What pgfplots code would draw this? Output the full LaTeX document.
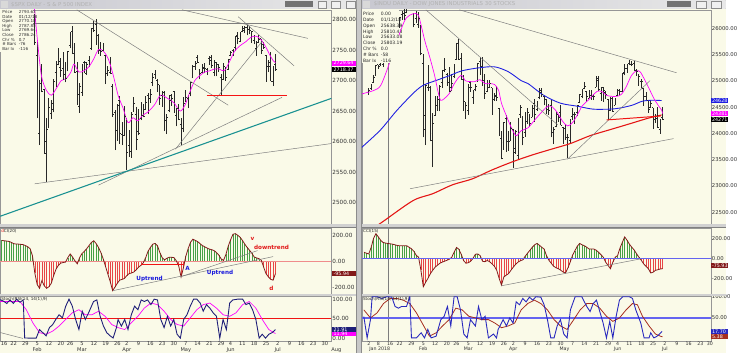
\documentclass[border=0pt]{standalone}
\usepackage{pgfplots}
\pgfplotsset{compat=1.18}
\usepackage{pgfplotstable}
\usepackage{fontspec}
\setmainfont{DejaVu Sans}
\definecolor{cream}{RGB}{250,250,232}
\definecolor{framegray}{RGB}{150,150,150}
\definecolor{winbg}{RGB}{200,200,200}
\definecolor{barcol}{RGB}{40,40,40}
\definecolor{magline}{RGB}{255,0,255}
\definecolor{blueMA}{RGB}{30,30,225}
\definecolor{redMA}{RGB}{228,20,20}
\definecolor{hred}{RGB}{240,20,20}
\definecolor{tealline}{RGB}{25,145,145}
\definecolor{trendgray}{RGB}{125,125,125}
\definecolor{cgreen}{RGB}{70,160,70}
\definecolor{cred}{RGB}{232,70,70}
\definecolor{cdark}{RGB}{130,25,25}
\definecolor{navy}{RGB}{30,30,120}
\definecolor{sblue}{RGB}{40,40,190}
\definecolor{sred}{RGB}{165,45,30}
\definecolor{zeroL}{RGB}{240,140,140}
\definecolor{lblue}{RGB}{100,100,240}
\definecolor{annblue}{RGB}{25,25,220}
\definecolor{annred}{RGB}{225,25,25}
\definecolor{titleA}{RGB}{200,200,208}
\definecolor{titleB}{RGB}{232,232,232}
\newcommand{\fsL}{\fontsize{5.8}{6}\selectfont}
\newcommand{\fsR}{\fontsize{4.9}{5}\selectfont}
\newcommand{\fsT}{\fontsize{5.4}{5.5}\selectfont}
\newcommand{\fsD}{\fontsize{5.2}{5.5}\selectfont}
\newcommand{\fsE}{\fontsize{4.8}{5}\selectfont}
\newcommand{\fsI}{\fontsize{4.2}{4.67}\selectfont}
\newcommand{\fsJ}{\fontsize{4.6}{5.9}\selectfont}
\pgfdeclareplotmark{otick}{\pgfpathmoveto{\pgfpoint{-1.3pt}{0pt}}\pgfpathlineto{\pgfpoint{0pt}{0pt}}\pgfusepathqstroke}
\pgfdeclareplotmark{ctick}{\pgfpathmoveto{\pgfpoint{0pt}{0pt}}\pgfpathlineto{\pgfpoint{1.3pt}{0pt}}\pgfusepathqstroke}
\pgfplotsset{
 panel/.style={scale only axis, anchor=south west, axis background/.style={fill=cream},
   axis line style={draw=framegray, line width=0.4pt}, xtick=\empty, ytick pos=right, yticklabel pos=right,
   major tick length=0pt, clip=true, scaled y ticks=false, scaled x ticks=false,
   yticklabel style={inner sep=0.8pt, text=black!80, /pgf/number format/fixed, /pgf/number format/fixed zerofill,
     /pgf/number format/precision=2, /pgf/number format/1000 sep={}, /pgf/number format/assume math mode=true},
   xticklabel style={inner sep=0.8pt, text=black!80}},
 L/.style={panel, width=337pt, xmin=7.33, xmax=147.75, yticklabel style={font=\fsL}, xticklabel style={font=\fsD}},
 R/.style={panel, width=355pt, xmin=-2.9, xmax=144.4, yticklabel style={font=\fsT}, xticklabel style={font=\fsE}},
 hl/.style={draw=none, mark=none, forget plot, error bars/y dir=plus, error bars/y explicit,
   error bars/error mark=none, error bars/error bar style={draw=barcol, line width=0.95pt, solid}},
 otk/.style={only marks, mark=otick, barcol, mark options={line width=0.85pt, solid}},
 ctk/.style={only marks, mark=ctick, barcol, mark options={line width=0.85pt, solid}},
}
\pgfplotstableread{
i o h l c
9 2798 2807 2768 2776
10 2784 2807 2778 2803
11 2802 2805 2787 2798
12 2802 2810 2798 2810
13 2809 2833 2808 2833
14 2835 2842 2831 2839
15 2845 2853 2817 2837
16 2846 2848 2830 2839
17 2847 2873 2846 2873
18 2867 2870 2852 2853
19 2833 2838 2819 2822
20 2832 2839 2813 2824
21 2816 2839 2813 2822
22 2808 2808 2759 2762
23 2741 2763 2638 2649
24 2614 2701 2594 2695
25 2690 2727 2681 2682
26 2685 2686 2580 2581
27 2601 2638 2533 2620
28 2637 2672 2622 2656
29 2646 2668 2637 2662
30 2652 2702 2648 2698
31 2713 2731 2689 2731
32 2727 2754 2725 2732
33 2722 2737 2706 2716
34 2720 2747 2701 2702
35 2710 2731 2697 2704
36 2716 2748 2715 2748
37 2757 2780 2753 2779
38 2781 2790 2744 2745
39 2754 2762 2713 2714
40 2715 2730 2660 2678
41 2658 2696 2647 2691
42 2681 2728 2675 2720
43 2730 2732 2712 2729
44 2711 2731 2709 2727
45 2733 2740 2722 2739
46 2753 2787 2751 2786
47 2790 2797 2780 2783
48 2792 2801 2759 2765
49 2774 2777 2744 2750
50 2755 2763 2741 2748
51 2750 2762 2749 2752
52 2741 2742 2694 2712
53 2715 2724 2708 2717
54 2714 2739 2711 2711
55 2691 2695 2641 2644
56 2647 2651 2586 2588
57 2619 2661 2601 2659
58 2667 2675 2596 2613
59 2612 2632 2594 2605
60 2610 2659 2609 2641
61 2634 2638 2554 2582
62 2593 2619 2575 2614
63 2584 2649 2573 2645
64 2657 2673 2649 2662
65 2645 2656 2586 2604
66 2617 2653 2610 2613
67 2638 2665 2635 2656
68 2643 2662 2640 2642
69 2653 2674 2652 2664
70 2676 2680 2645 2656
71 2670 2687 2664 2678
72 2697 2713 2691 2706
73 2710 2717 2703 2708
74 2701 2702 2681 2693
75 2692 2693 2660 2670
76 2675 2683 2657 2670
77 2681 2683 2617 2635
78 2634 2645 2612 2640
79 2651 2676 2648 2667
80 2675 2678 2659 2670
81 2683 2683 2648 2648
82 2643 2655 2625 2655
83 2654 2661 2635 2636
84 2628 2638 2594 2630
85 2622 2673 2615 2663
86 2681 2684 2665 2672
87 2671 2677 2655 2672
88 2679 2698 2674 2697
89 2705 2726 2704 2723
90 2723 2732 2718 2728
91 2738 2742 2729 2730
92 2719 2719 2702 2711
93 2713 2727 2713 2722
94 2720 2729 2712 2720
95 2718 2720 2709 2713
96 2736 2740 2726 2733
97 2738 2742 2721 2725
98 2713 2734 2707 2733
99 2730 2731 2707 2727
100 2724 2728 2714 2721
101 2705 2710 2676 2690
102 2702 2729 2702 2724
103 2720 2722 2700 2705
104 2718 2736 2718 2735
105 2742 2749 2740 2747
106 2749 2752 2740 2749
107 2754 2772 2749 2772
108 2774 2779 2760 2770
109 2765 2779 2763 2779
110 2780 2790 2779 2782
111 2785 2789 2778 2787
112 2788 2791 2774 2775
113 2784 2789 2776 2782
114 2778 2782 2762 2780
115 2766 2775 2760 2774
116 2752 2765 2741 2762
117 2769 2775 2762 2767
118 2769 2769 2744 2749
119 2760 2764 2752 2755
120 2742 2742 2698 2717
121 2723 2733 2714 2723
122 2729 2747 2699 2699
123 2699 2724 2691 2716
124 2727 2743 2716 2718
}\spx
\pgfplotstableread{
i o h l c
0 24809 24864 24742 24824
1 24850 24942 24823 24922
2 24964 25106 24963 25075
3 25115 25299 25114 25296
4 25308 25312 25235 25283
5 25313 25386 25290 25386
6 25309 25370 25262 25370
7 25406 25576 25406 25575
8 25638 25810 25633 25803
9 25987 26086 25682 25792
10 25858 26153 25809 26116
11 26152 26153 25990 26017
12 26040 26072 25942 26072
13 26026 26215 26011 26214
14 26269 26338 26171 26211
15 26287 26448 26162 26252
16 26312 26459 26290 26393
17 26460 26617 26439 26617
18 26577 26609 26413 26440
19 26230 26305 26020 26077
20 26198 26339 26097 26149
21 26084 26306 26014 26187
22 26062 26062 25490 25521
23 25337 25521 23924 24346
24 24085 24946 23778 24913
25 24870 25313 24807 24893
26 24883 24903 23849 23860
27 23992 24382 23360 24191
28 24337 24721 24337 24601
29 24540 24705 24432 24640
30 24535 24925 24421 24893
31 24970 25200 24868 25200
32 25195 25433 25173 25219
33 25125 25157 24903 24965
34 24974 25273 24785 24798
35 24886 25135 24803 24963
36 25088 25310 25053 25310
37 25406 25709 25406 25709
38 25732 25800 25406 25410
39 25433 25531 25027 25029
40 25024 25116 24432 24608
41 24395 24594 24283 24538
42 24438 24946 24361 24874
43 24965 24994 24798 24884
44 24695 24835 24562 24801
45 24846 24950 24804 24895
46 25000 25339 24987 25335
47 25374 25450 25120 25178
48 25281 25449 24901 25007
49 25093 25133 24658 24758
50 24801 25012 24785 24873
51 24878 25018 24878 24946
52 24872 24873 24357 24610
53 24640 24780 24620 24727
54 24706 24904 24615 24682
55 24486 24486 23948 23957
56 23913 24053 23509 23533
57 23823 24215 23687 24202
58 24294 24361 23644 23857
59 23842 24040 23673 23849
60 23859 24216 23855 24103
61 24076 24076 23344 23644
62 23715 24074 23612 24034
63 23586 24302 23523 24265
64 24357 24543 24300 24505
65 24301 24331 23773 23933
66 24025 24401 23940 23979
67 24232 24487 24185 24408
68 24272 24374 24127 24190
69 24308 24534 24308 24483
70 24573 24662 24216 24360
71 24449 24624 24437 24573
72 24694 24858 24648 24786
73 24813 24858 24691 24748
74 24713 24713 24535 24665
75 24657 24658 24378 24463
76 24493 24557 24355 24448
77 24535 24636 23927 24025
78 24029 24121 23801 24084
79 24140 24405 24116 24322
80 24356 24361 24221 24311
81 24404 24537 24160 24163
82 24117 24117 23808 24100
83 24098 24185 23885 23925
84 23836 23996 23532 23930
85 23865 24263 23819 24263
86 24317 24479 24263 24358
87 24342 24417 24184 24361
88 24399 24543 24328 24543
89 24592 24756 24592 24740
90 24715 24837 24675 24831
91 24853 24979 24850 24900
92 24800 24800 24607 24707
93 24671 24825 24671 24769
94 24723 24827 24642 24713
95 24710 24747 24634 24715
96 24883 25087 24883 25013
97 25047 25086 24816 24834
98 24765 24888 24626 24886
99 24878 24878 24597 24811
100 24774 24803 24659 24753
101 24649 24649 24252 24362
102 24437 24699 24437 24668
103 24638 24701 24416 24416
104 24542 24681 24534 24635
105 24730 24857 24730 24814
106 24827 24843 24740 24799
107 24805 25149 24799 25146
108 25163 25326 25106 25241
109 25232 25317 25158 25317
110 25328 25402 25302 25322
111 25336 25388 25285 25320
112 25335 25375 25197 25201
113 25199 25222 25098 25175
114 25132 25132 24913 25090
115 24990 25030 24868 24987
116 24853 24853 24532 24700
117 24701 24794 24643 24657
118 24625 24642 24398 24462
119 24495 24643 24495 24581
120 24491 24491 24084 24252
121 24268 24370 24203 24284
122 24344 24507 24106 24117
123 24080 24268 23997 24217
124 24313 24509 24260 24271
}\dji
\pgfplotstableread{
i v
8 165
9 162
10 160
11 157
12 150
13 140
14 136
15 136
16 134
17 132
18 125
19 115
20 100
21 45
22 -90
23 -180
24 -210
25 -150
26 -190
27 -210
28 -197
29 -170
30 -110
31 -60
32 -30
33 -13
34 -8
35 -5
36 30
37 59
38 35
39 5
40 -18
41 30
42 62
43 80
44 100
45 125
46 149
47 162
48 140
49 110
50 70
51 20
52 -40
53 -100
54 -160
55 -228
56 -200
57 -170
58 -146
59 -140
60 -133
61 -110
62 -95
63 -90
64 -82
65 -65
66 -44
67 -30
68 -10
69 30
70 80
71 110
72 135
73 141
74 123
75 70
76 30
77 13
78 25
79 33
80 33
81 30
82 5
83 -35
84 -121
85 -50
86 40
87 100
88 150
89 174
90 165
91 156
92 140
93 125
94 115
95 105
96 97
97 92
98 85
99 70
100 50
101 20
102 8
103 55
104 120
105 170
106 213
107 218
108 205
109 190
110 165
111 136
112 110
113 88
114 65
115 35
116 28
117 22
118 10
119 -44
120 -95
121 -120
122 -140
123 -146
124 -96
}\cciL
\pgfplotstableread{
i v
-2 59
-1 50
0 43
1 110
2 200
3 246
4 214
5 180
6 158
7 152
8 148
9 145
10 141
11 135
12 128
13 125
14 125
15 125
16 125
17 110
18 95
19 70
20 30
21 10
22 -121
23 -286
24 -240
25 -200
26 -154
27 -120
28 -89
29 -70
30 -50
31 -39
32 -30
33 -20
34 -10
35 10
36 60
37 108
38 90
39 40
40 -23
41 -50
42 -45
43 -30
44 0
45 40
46 43
47 26
48 -30
49 -35
50 -23
51 -35
52 -56
53 -80
54 -121
55 -200
56 -269
57 -187
58 -170
59 -154
60 -120
61 -89
62 -60
63 -39
64 -25
65 -16
66 20
67 50
68 80
69 110
70 135
71 148
72 130
73 110
74 92
75 26
76 -20
77 -50
78 -80
79 -95
80 -105
81 -120
82 -138
83 -148
84 -100
85 -39
86 30
87 76
88 120
89 148
90 135
91 125
92 110
93 92
94 92
95 92
96 80
97 59
98 35
99 10
100 -40
101 -72
102 -105
103 -39
104 10
105 26
106 100
107 158
108 214
109 180
110 141
111 110
112 83
113 45
114 10
115 -20
116 -56
117 -80
118 -105
119 -148
120 -140
121 -121
122 -115
123 -108
124 -105
}\cciR
\begin{document}
\begin{tikzpicture}
\begin{scope}[x=1pt,y=1pt]
\useasboundingbox (0,0) rectangle (738,359);
\fill[winbg] (0,0) rectangle (738,359);
\fill[cream] (0,0) rectangle (362,350);
\fill[cream] (368,0) rectangle (738,350);
\draw[black!45, line width=0.5pt] (362.5,0) -- (362.5,359);
\draw[black!45, line width=0.5pt] (367.5,0) -- (367.5,359);
\shade[left color=titleA, right color=titleB] (0,350) rectangle (362,359);
\shade[left color=titleA, right color=titleB] (368,350) rectangle (738,359);
\fill[white!70!gray] (1,351) rectangle (8,358);
\fill[white!70!gray] (369,351) rectangle (376,358);
\node[anchor=west, font=\fontsize{5.5}{6}\selectfont, text=black!30, inner sep=0] at (11,354.5) {\$SPX DAILY - S \& P 500 INDEX};
\node[anchor=west, font=\fontsize{5.5}{6}\selectfont, text=black!30, inner sep=0] at (380,354.5) {\$INDU DAILY - DOW JONES INDUSTRIALS 30 STOCKS};
\fill[black!55] (290,351.5) rectangle (318,357.5);
\foreach \a in {323,337,352} {\fill[white!88!gray] (\a,351) rectangle (\a+9,358); \draw[black!45,line width=0.3pt] (\a,351) rectangle (\a+9,358);}
\fill[black!55] (678,351.5) rectangle (703,357.5);
\foreach \a in {708,723} {\fill[white!88!gray] (\a,351) rectangle (\a+10,358); \draw[black!45,line width=0.3pt] (\a,351) rectangle (\a+10,358);}
\end{scope}

% ===== LEFT PRICE =====
\begin{axis}[L, at={(0pt,131pt)}, height=218pt, ymin=2464.5, ymax=2816.1, ytick={2500,2550,...,2800}]
\addplot[trendgray, line width=0.4pt] coordinates {(7.33,2793.63) (147.75,2793.63)};
\addplot[hl] table[x=i, y=l, y error expr=\thisrow{h}-\thisrow{l}] {\spx};
\addplot[otk] table[x=i, y=o] {\spx};
\addplot[ctk] table[x=i, y=c] {\spx};
\addplot[magline, line width=0.7pt, smooth, tension=0.5] coordinates {(21.5,2830) (21.9,2816) (23.2,2763) (24.8,2708) (26.9,2684) (29.0,2676) (31.1,2687) (33.2,2700) (35.2,2703) (37.3,2714) (38.6,2727) (40.7,2714) (42.7,2716) (44.8,2722) (46.9,2735) (49.0,2751) (51.1,2748) (53.2,2735) (55.3,2708) (57.3,2676) (59.4,2655) (61.5,2631) (63.6,2639) (65.7,2634) (67.7,2643) (69.8,2648) (72.7,2660) (75.3,2676) (78.2,2671) (81.1,2663) (83.6,2650) (85.7,2660) (87.8,2682) (89.8,2700) (91.9,2708) (94.0,2714) (96.1,2716) (98.2,2719) (100.2,2719) (102.3,2716) (104.4,2730) (106.5,2747) (108.6,2756) (111.5,2764) (113.6,2771) (115.7,2773) (117.7,2768) (119.8,2756) (121.9,2740) (123.2,2732) (124.0,2729.6)};
\addplot[trendgray, line width=0.5pt] coordinates {(39.8,2816.1) (104,2659.6)};
\addplot[trendgray, line width=0.5pt] coordinates {(84.4,2816.1) (137.75,2769.3)};
\addplot[trendgray, line width=0.5pt] coordinates {(108.2,2804.8) (131.9,2724.2)};
\addplot[trendgray, line width=0.5pt] coordinates {(81.6,2587.5) (118.5,2765.0)};
\addplot[trendgray, line width=0.5pt] coordinates {(49.0,2528.5) (126.8,2672.5)};
\addplot[trendgray, line width=0.5pt] coordinates {(21.9,2530.6) (147.75,2596.7)};
\addplot[tealline, line width=1.1pt] coordinates {(7.33,2477.4) (147.75,2670.9)};
\draw[line width=1.3pt, color={rgb,255:red,245;green,20;blue,20}] (axis cs:94.8,2675.8) -- (axis cs:129,2675.8);
\end{axis}

% ===== LEFT CCI =====
\begin{axis}[L, at={(0pt,60pt)}, height=67pt, ymin=-253.8, ymax=261.5, ytick={-200,0,200}]
\addplot[ycomb, cgreen, line width=0.6pt, restrict y to domain=0:1000] table[x=i,y=v] {\cciL};
\addplot[ycomb, cred, line width=0.6pt, restrict y to domain=-1000:0] table[x=i,y=v] {\cciL};
\addplot[zeroL, line width=0.7pt] coordinates {(7.33,0) (147.75,0)};
\addplot[cdark, line width=0.8pt] table[x=i,y=v] {\cciL};
\draw[line width=0.9pt, color=hred] (axis cs:67,-23) -- (axis cs:85.1,-23);
\addplot[trendgray, line width=0.5pt] coordinates {(55.2,-228) (123.0,38)};
\addplot[trendgray, line width=0.5pt] coordinates {(83.7,-121) (116.4,85)};
\end{axis}

% ===== LEFT STOCH =====
\begin{axis}[L, at={(0pt,12pt)}, height=46pt, ymin=-7.6, ymax=108.4, ytick={0,50,100},
  xtick={9,13,18,23,28,33,37,42,47,52,57,61,66,71,76,81,86,91,96,101,105,110,115,120,125,130,135,140,145},
  xticklabels={16,22,29,5,12,20,26,5,12,19,26,2,9,16,23,30,7,14,21,29,4,11,18,25,2,9,16,23,30},
  extra x ticks={23,42,61,86,105,125}, extra x tick labels={Feb,Mar,Apr,May,Jun,Jul},
  extra x tick style={xticklabel style={yshift=-5.5pt}}]
\addplot[color=hred, line width=0.8pt] coordinates {(7.33,50) (147.75,50)};
\addplot[trendgray, line width=0.5pt] coordinates {(7.33,14.4) (17.0,-0.8)};
\addplot[magline, line width=0.7pt] coordinates {(7.3,94)(15.7,94)(18.4,73)(21.2,39)(24.0,14)(26.8,10)(29.6,18)(32.3,31)(35.1,48)(37.9,65)(40.7,73)(43.4,60)(46.2,60)(49.0,69)(51.8,56)(54.6,35)(57.3,27)(60.1,22)(62.9,39)(65.7,56)(68.4,77)(71.2,90)(74.0,86)(76.8,69)(79.6,48)(82.3,35)(85.1,31)(87.9,52)(90.7,73)(93.4,86)(96.2,90)(99.0,77)(101.8,60)(104.6,56)(107.3,65)(110.1,86)(112.9,94)(115.7,77)(118.4,48)(121.2,22)(123.3,14)(124,12)};
\addplot[navy, line width=0.9pt] coordinates {(7.3,98.5)(8.7,95)(10.1,89)(11.5,98)(12.9,89)(14.3,100)(15.7,92)(17.1,98)(17.7,0.5)(19.8,0)(22.6,0)(24.0,22)(25.4,14)(26.8,6)(28.2,27)(29.6,35)(30.9,48)(32.3,60)(33.7,52)(35.1,82)(36.5,100)(37.9,82)(39.3,48)(40.7,22)(42.1,69)(43.4,48)(44.8,65)(46.9,94)(48.3,98)(49.7,56)(51.1,31)(52.5,14)(53.9,6)(55.2,0.4)(56.6,27)(57.3,48)(58.7,31)(60.1,48)(61.5,22)(62.9,60)(64.3,82)(65.7,73)(67.1,98)(68.4,94)(69.8,98)(71.2,86)(72.6,100)(74.0,98)(75.4,48)(76.8,27)(78.2,56)(79.6,31)(80.9,48)(82.3,10)(83.7,0)(85.1,48)(86.5,60)(87.9,82)(89.3,100)(90.7,100)(92.1,90)(93.4,69)(94.8,86)(96.2,77)(97.6,65)(99.0,56)(100.4,0)(101.8,48)(103.2,22)(104.6,90)(105.9,98)(108.0,100)(110.1,100)(111.5,86)(112.9,90)(114.3,73)(115.7,48)(117.1,0)(118.4,10)(119.8,0)(121.2,10)(122.6,14)(124.0,22)};
\end{axis}

% ===== RIGHT PRICE =====
\begin{axis}[R, at={(368pt,131pt)}, height=218pt, ymin=22273, ymax=26356, ytick={22500,23000,...,26000}]
\addplot[trendgray, line width=0.4pt] coordinates {(8,22273) (8,26356)};
\addplot[hl] table[x=i, y=l, y error expr=\thisrow{h}-\thisrow{l}] {\dji};
\addplot[otk] table[x=i, y=o] {\dji};
\addplot[ctk] table[x=i, y=c] {\dji};
\addplot[redMA, line width=1.1pt, smooth] coordinates {(3.3,22240) (6.2,22329) (18.7,22722) (27.0,22853) (35.3,23022) (43.6,23134) (51.9,23303) (60.2,23453) (68.5,23584) (76.8,23697) (85.1,23809) (93.4,23958) (101.7,24071) (110.0,24183) (118.3,24296) (123.6,24352)};
\addplot[blueMA, line width=0.9pt, smooth] coordinates {(-2.9,23740) (-2.1,23771) (5.0,24071) (11.6,24427) (18.7,24764) (22.8,24914) (28.2,25007) (34.0,25101) (39.4,25195) (46.5,25251) (53.1,25270) (58.9,25176) (64.3,25007) (67.2,24951) (73.9,24726) (80.9,24577) (88.0,24520) (94.6,24464) (101.7,24464) (105.8,24483) (111.2,24539) (115.4,24614) (119.5,24633) (123.6,24628)};
\addplot[magline, line width=0.7pt, smooth, tension=0.5] coordinates {(-2.9,24750) (-2.1,24764) (2.1,24820) (5.0,24914) (8.3,25288) (13.3,25944) (15.8,26200) (18.7,26281) (20.8,26262) (22.0,26075) (23.7,25756) (25.7,25457) (27.8,25100) (29.1,24820) (30.3,24633) (32.0,24670) (34.0,24764) (36.1,24951) (38.2,25082) (39.4,25101) (40.7,25007) (42.7,24989) (44.8,24989) (46.9,25026) (49.0,24951) (51.0,24951) (53.1,24932) (54.8,24820) (56.0,24577) (58.1,24333) (60.2,24108) (62.2,23958) (64.3,24052) (67.2,24108) (69.7,24239) (72.6,24389) (75.5,24520) (77.6,24502) (79.7,24389) (81.7,24239) (83.8,24145) (85.9,24202) (88.0,24352) (90.0,24520) (92.1,24614) (94.2,24708) (96.3,24801) (98.3,24801) (100.4,24726) (102.5,24708) (104.6,24708) (106.6,24745) (108.7,24895) (110.8,25101) (112.9,25195) (114.5,25176) (116.2,25045) (118.3,24857) (120.3,24670) (122.4,24520) (123.6,24445) (124,24381)};
\addplot[trendgray, line width=0.5pt] coordinates {(24.1,26356) (79.7,24165)};
\addplot[trendgray, line width=0.5pt] coordinates {(38.2,26356) (129.9,25157)};
\addplot[trendgray, line width=0.5pt] coordinates {(17.4,22947) (128.6,23902)};
\addplot[trendgray, line width=0.5pt] coordinates {(83.8,23509) (118.7,25007)};
\draw[line width=1pt, color=hred] (axis cs:100.4,24258) -- (axis cs:123.2,24333);
\end{axis}

% ===== RIGHT CCI =====
\begin{axis}[R, at={(368pt,60pt)}, height=67pt, ymin=-357.6, ymax=302.4, ytick={-200,0,200}]
\addplot[trendgray, line width=0.4pt] coordinates {(8,-357.6) (8,302.4)};
\addplot[ycomb, cgreen, line width=0.6pt, restrict y to domain=0:1000] table[x=i,y=v] {\cciR};
\addplot[ycomb, cred, line width=0.6pt, restrict y to domain=-1000:0] table[x=i,y=v] {\cciR};
\addplot[cdark, line width=0.8pt] table[x=i,y=v] {\cciR};
\addplot[lblue, line width=1.3pt] coordinates {(-2.9,0) (144.4,0)};
\addplot[trendgray, line width=0.5pt] coordinates {(56.0,-276) (114.8,-6)};
\end{axis}

% ===== RIGHT STOCH =====
\begin{axis}[R, at={(368pt,12pt)}, height=46pt, ymin=-4.6, ymax=102, ytick={50,100},
  xtick={0,4,9,13,18,23,28,33,37,42,47,52,57,61,66,71,76,81,86,91,96,101,105,110,115,120,125,130,135,140},
  xticklabels={2,8,16,22,29,5,12,20,26,5,12,19,26,2,9,16,23,30,7,14,21,29,4,11,18,25,2,9,16,23},
  extra x ticks={4.6,23,42,61,82.6,105,125}, extra x tick labels={Jan 2018,Feb,Mar,Apr,May,Jun,Jul},
  extra x tick style={xticklabel style={yshift=-5.2pt}}]
\addplot[trendgray, line width=0.4pt] coordinates {(8,-4.6) (8,102)};
\addplot[lblue, line width=1.3pt] coordinates {(-2.9,50) (144.4,50)};
\addplot[sred, line width=0.8pt] coordinates {(-2.1,69)(0.7,50)(3.5,62)(6.2,84)(9.0,96)(11.8,96)(14.5,92)(17.3,84)(20.1,62)(22.8,35)(25.6,7)(28.4,15)(31.1,31)(33.9,46)(36.7,73)(39.4,69)(42.2,54)(45.0,50)(47.7,46)(50.5,46)(53.2,38)(56.0,27)(58.8,31)(61.6,38)(64.3,69)(67.1,84)(69.9,92)(72.6,84)(75.4,69)(78.2,46)(80.9,31)(83.7,23)(86.5,46)(89.2,69)(92.0,84)(94.7,84)(97.5,73)(100.3,54)(103.0,42)(105.8,50)(108.6,69)(111.3,84)(113.4,81)(115.5,54)(118.3,31)(121.0,12)(123.1,7)(124,5.4)};
\addplot[sblue, line width=0.9pt] coordinates {(-2.1,53)(-0.7,3)(0.7,46)(1.4,100)(3.5,100)(5.5,96)(7.6,100)(9.7,99)(11.1,77)(12.5,73)(13.8,77)(15.9,77)(17.3,100)(18.0,3)(20.1,3)(22.1,15)(23.5,3)(24.9,23)(26.3,3)(28.4,7)(30.4,46)(31.8,54)(33.2,77)(34.6,31)(36.0,100)(37.3,100)(38.7,69)(40.1,12)(41.5,3)(42.9,46)(45.0,31)(46.3,77)(47.7,46)(49.1,54)(50.5,3)(52.6,12)(53.9,3)(54.6,23)(56.7,46)(58.1,31)(59.5,50)(60.9,38)(62.2,88)(63.6,81)(65.0,96)(66.4,88)(67.8,99)(69.2,92)(70.5,100)(72.6,99)(74.0,81)(75.4,46)(76.8,3)(78.2,3)(79.5,31)(80.9,46)(82.3,12)(83.7,3)(85.1,69)(87.1,100)(89.9,100)(92.0,77)(93.4,65)(94.7,84)(96.1,92)(97.5,65)(98.9,38)(100.3,3)(101.7,42)(103.0,3)(104.4,54)(105.8,92)(107.2,100)(110.0,100)(111.3,96)(112.7,69)(114.8,38)(116.2,3)(118.3,3)(119.0,15)(120.3,3)(121.7,7)(123.8,18)};
\end{axis}

\begin{scope}[x=1pt,y=1pt]
% panel separators
\fill[black!18] (0,127) rectangle (362,131);
\draw[black!50, line width=0.4pt] (0,128.2) -- (362,128.2);
\fill[black!18] (368,127) rectangle (738,131);
\draw[black!50, line width=0.4pt] (368,128.2) -- (738,128.2);
\fill[black!18] (0,58) rectangle (362,60);
\fill[black!18] (368,58) rectangle (738,60);
% info boxes
\fill[cream] (0,306) rectangle (33,349.6);
\node[anchor=north west, inner sep=0, font=\fsI, text=black!80] at (2,348.6) {\begin{tabular}{@{}l@{\hspace{2.5pt}}l@{}}Price & 2793.63\\ Date & 01/12/18\\ Open & 2770.18\\ High & 2787.85\\ Low & 2769.64\\ Close & 2786.24\\ Chr \% & 0.7\\ \# Bars & -76\\ Bar Ix & -116\end{tabular}};
\fill[cream] (368,295) rectangle (406,349.6);
\node[anchor=north west, inner sep=0, font=\fsJ, text=black!85] at (369,347.3) {\begin{tabular}{@{}l@{\hspace{2.5pt}}l@{}}Price & 0.00\\ Date & 01/12/18\\ Open & 25638.39\\ High & 25810.43\\ Low & 25633.08\\ Close & 25803.19\\ Chr \% & 0.0\\ \# Bars & -58\\ Bar Ix & -116\end{tabular}};
% value boxes
\fill[magline] (338,292.2) rectangle (362,297.3);
\node[anchor=west, inner sep=0, font=\fsR, text=white] at (339,294.8) {2729.64};
\fill[black] (338,286) rectangle (362,291.2);
\node[anchor=west, inner sep=0, font=\fsR, text=white] at (339,288.5) {2718.37};
\fill[cdark] (338,78.5) rectangle (362,83.5);
\node[anchor=west, inner sep=0, font=\fsR, text=white] at (339,81) {-95.94};
\fill[navy] (338,21.2) rectangle (362,26.2);
\node[anchor=west, inner sep=0, font=\fsR, text=white] at (339,23.7) {21.91};
\fill[magline] (338,17.2) rectangle (362,21.2);
\node[anchor=west, inner sep=0, font=\fsR, text=white] at (339,19.2) {11.94};
\fill[blueMA] (723,254.2) rectangle (740,259.2);
\node[anchor=west, inner sep=0, font=\fsR, text=white] at (724,256.7) {24628};
\fill[magline] (723,241.1) rectangle (740,246.1);
\node[anchor=west, inner sep=0, font=\fsR, text=white] at (724,243.6) {24381};
\fill[black] (723,235.2) rectangle (740,240.2);
\node[anchor=west, inner sep=0, font=\fsR, text=white] at (724,237.7) {24271};
\fill[cdark] (723,86.1) rectangle (740,91.1);
\node[anchor=west, inner sep=0, font=\fsR, text=white] at (724,88.6) {-75.93};
\fill[sblue] (723,19.2) rectangle (740,24.2);
\node[anchor=west, inner sep=0, font=\fsR, text=white] at (724,21.7) {17.70};
\fill[sred] (723,14.2) rectangle (740,19.2);
\node[anchor=west, inner sep=0, font=\fsR, text=white] at (724,16.7) {5.38};
% panel titles
\node[anchor=west, inner sep=0, font=\fsI, text=black!85] at (1,123.5) {{\color{annred}d}CI(20)};
\node[anchor=west, inner sep=0, font=\fsI, text=black!85] at (1,55) {Stoch(RSI(14, 14(1),9)};
\node[anchor=west, inner sep=0, font=\fsI, text=black!85] at (369,123.5) {CCI(15)};
\node[anchor=west, inner sep=0, font=\fsI, text=black!85] at (369,55) {Stoch(RSI(14, 14(1),9)};
% annotations
\node[font=\fontsize{5.8}{6}\bfseries, text=annblue, inner sep=0] at (152,75) {Uptrend};
\node[font=\fontsize{5.8}{6}\bfseries, text=annblue, inner sep=0] at (223.7,81) {Uptrend};
\node[font=\fontsize{5.8}{6}\bfseries, text=annblue, inner sep=0] at (190.7,86) {A};
\node[font=\fontsize{5.8}{6}\bfseries, text=annred, inner sep=0] at (256.7,115.7) {v};
\node[font=\fontsize{5.8}{6}\bfseries, text=annred, inner sep=0] at (276,107.3) {downtrend};
\node[font=\fontsize{5.8}{6}\bfseries, text=annred, inner sep=0] at (276,65.7) {d};
% off-range date labels
\node[font=\fsD, text=black!80, inner sep=0] at (342,3) {Aug};
\node[font=\fsE, text=black!80, inner sep=0] at (722,9) {30};
\end{scope}
\end{tikzpicture}
\end{document}
